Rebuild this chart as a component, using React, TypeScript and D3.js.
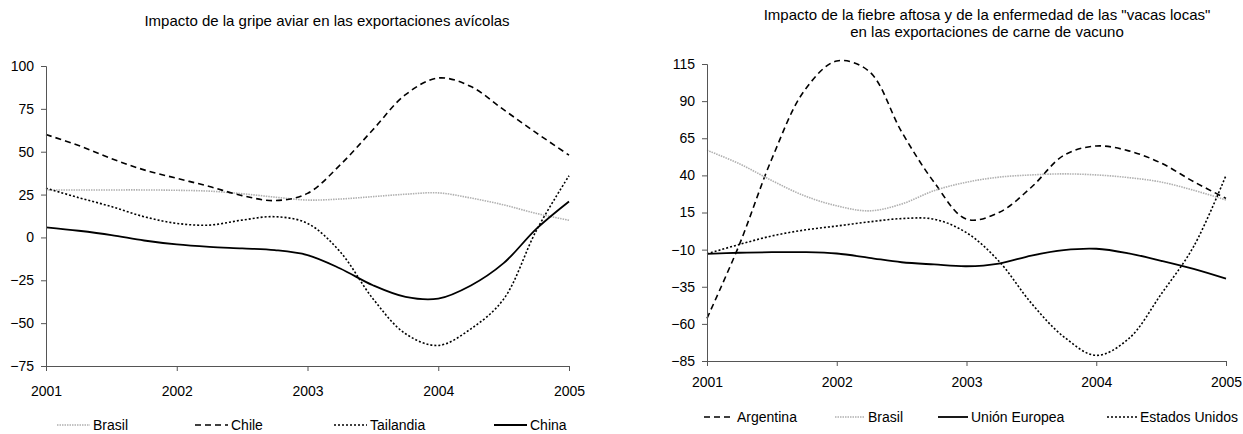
import { useEffect, useRef } from 'react';
import * as d3 from 'd3';

// quarterly readings taken off the two smoothed curves
const quarters = [2001, 2001.25, 2001.5, 2001.75, 2002, 2002.25, 2002.5, 2002.75, 2003, 2003.25, 2003.5, 2003.75, 2004, 2004.25, 2004.5, 2004.75, 2005];
const yearTicks = [2001, 2002, 2003, 2004, 2005];

const poultryTicks = [100, 75, 50, 25, 0, -25, -50, -75];
const brasilAves = [27.7, 27.7, 27.7, 27.7, 27.5, 27, 25.5, 23.5, 21.8, 22.4, 23.8, 25.2, 26, 23, 19, 14, 10];
const chileAves = [60, 53.6, 46, 39.4, 34.5, 29.7, 24.4, 21.5, 25.7, 42.3, 62.8, 83.3, 93, 88, 74.5, 61, 48];
const tailandiaAves = [28.7, 23.2, 18, 12.1, 8.2, 7.2, 10.1, 12.1, 8.2, -8.4, -35.7, -56.2, -63, -53.3, -36, 4, 36];
const chinaAves = [5.9, 3.9, 1.4, -1.8, -4.1, -5.5, -6.4, -7.4, -10.3, -18.1, -27.9, -34.7, -35.7, -28, -15, 5, 21];

const beefTicks = [115, 90, 65, 40, 15, -10, -35, -60, -85];
const argentinaVacuno = [-56.3, -6.5, 51.2, 97, 117, 110, 69.3, 35.4, 10.5, 15, 32, 53.5, 59.8, 56.5, 48.3, 35.8, 24.5];
const brasilVacuno = [56.9, 47.8, 36.5, 26.3, 19.5, 16.1, 20.7, 29.7, 35.4, 38.8, 40.3, 41, 40.3, 38.5, 35.5, 30, 23.4];
const ueVacuno = [-12.8, -12.1, -11.7, -11.7, -12.6, -15.5, -18.5, -20, -21.2, -19.4, -14, -10.3, -9.4, -12.5, -17.5, -23, -29.6];
const eeuuVacuno = [-12.8, -6.5, -0.8, 3.2, 5.9, 8.7, 10.9, 10.5, 1.4, -17.8, -46.1, -68.7, -81.2, -70, -40, -8, 40];

type LineStyle = { stroke: string; width: number; dash: string | null };

const styles: Record<string, LineStyle> = {
  dashed: { stroke: '#000', width: 1.6, dash: '6,4' },
  gray: { stroke: '#b0b0b0', width: 1.6, dash: '1.5,1' },
  dotted: { stroke: '#000', width: 1.6, dash: '2,2' },
  solid: { stroke: '#000', width: 1.8, dash: null },
};

type Series = { name: string; values: number[]; style: string; legendX: number; lineLen: number };

type Panel = {
  left: number;
  right: number;
  top: number;
  bottom: number;
  ticks: number[];
  title: string[];
  titleX: number;
  titleY: number;
  legendY: number;
  labelY: number;
  series: Series[];
};

const FONT = 'Arial, "Liberation Sans", sans-serif';

function drawPanel(svg: d3.Selection<SVGSVGElement, unknown, null, undefined>, p: Panel) {
  const x = d3.scaleLinear().domain([2001, 2005]).range([p.left, p.right]);
  const y = d3.scaleLinear()
    .domain([d3.min(p.ticks)!, d3.max(p.ticks)!])
    .range([p.bottom, p.top]);

  const g = svg.append('g');

  // title
  const t = g.append('text')
    .attr('x', p.titleX)
    .attr('y', p.titleY)
    .attr('text-anchor', 'middle')
    .attr('font-family', FONT)
    .attr('font-size', 15);
  p.title.forEach((line, i) => {
    t.append('tspan').attr('x', p.titleX).attr('dy', i === 0 ? 0 : 17).text(line);
  });

  // lines
  const line = d3.line<number>()
    .x((_, i) => x(quarters[i]))
    .y(d => y(d))
    .curve(d3.curveCatmullRom.alpha(0.5));

  p.series.forEach(s => {
    const st = styles[s.style];
    g.append('path')
      .datum(s.values)
      .attr('fill', 'none')
      .attr('stroke', st.stroke)
      .attr('stroke-width', st.width)
      .attr('stroke-dasharray', st.dash)
      .attr('d', line);
  });

  // y axis
  const yAxis = g.append('g')
    .attr('transform', `translate(${p.left},0)`)
    .call(d3.axisLeft(y).tickValues(p.ticks).tickSize(5).tickPadding(7).tickFormat(d3.format('d')));
  yAxis.selectAll('path, line').attr('stroke', '#555');
  yAxis.selectAll('text').attr('font-family', FONT).attr('font-size', 14).attr('fill', '#000');

  // x axis
  const xAxis = g.append('g')
    .attr('transform', `translate(0,${p.bottom})`)
    .call(d3.axisBottom(x).tickValues(yearTicks).tickSize(5).tickSizeOuter(5).tickFormat(d3.format('d')));
  xAxis.selectAll('path, line').attr('stroke', '#555');
  xAxis.selectAll('text')
    .attr('font-family', FONT)
    .attr('font-size', 14)
    .attr('fill', '#000')
    .attr('y', p.labelY - p.bottom)
    .attr('dy', 0);

  // legend
  p.series.forEach(s => {
    const st = styles[s.style];
    g.append('line')
      .attr('x1', s.legendX - s.lineLen - 3)
      .attr('x2', s.legendX - 3)
      .attr('y1', p.legendY - 5)
      .attr('y2', p.legendY - 5)
      .attr('stroke', st.stroke)
      .attr('stroke-width', st.width)
      .attr('stroke-dasharray', st.dash);
    g.append('text')
      .attr('x', s.legendX)
      .attr('y', p.legendY)
      .attr('font-family', FONT)
      .attr('font-size', 14)
      .text(s.name);
  });
}

export default function App() {
  const svgRef = useRef<SVGSVGElement>(null);

  useEffect(() => {
    if (!svgRef.current) return;
    const svg = d3.select(svgRef.current);
    svg.selectAll('*').remove();

    drawPanel(svg, {
      left: 46,
      right: 569,
      top: 66,
      bottom: 366,
      ticks: poultryTicks,
      title: ['Impacto de la gripe aviar en las exportaciones avícolas'],
      titleX: 327,
      titleY: 26,
      legendY: 430,
      labelY: 396,
      series: [
        { name: 'Brasil', values: brasilAves, style: 'gray', legendX: 93, lineLen: 33 },
        { name: 'Chile', values: chileAves, style: 'dashed', legendX: 231, lineLen: 33 },
        { name: 'Tailandia', values: tailandiaAves, style: 'dotted', legendX: 370, lineLen: 33 },
        { name: 'China', values: chinaAves, style: 'solid', legendX: 530, lineLen: 33 },
      ],
    });

    drawPanel(svg, {
      left: 707,
      right: 1226,
      top: 64,
      bottom: 361,
      ticks: beefTicks,
      title: [
        'Impacto de la fiebre aftosa y de la enfermedad de las "vacas locas"',
        'en las exportaciones de carne de vacuno',
      ],
      titleX: 987,
      titleY: 20,
      legendY: 422,
      labelY: 387,
      series: [
        { name: 'Argentina', values: argentinaVacuno, style: 'dashed', legendX: 737, lineLen: 30 },
        { name: 'Brasil', values: brasilVacuno, style: 'gray', legendX: 868, lineLen: 30 },
        { name: 'Unión Europea', values: ueVacuno, style: 'solid', legendX: 971, lineLen: 30 },
        { name: 'Estados Unidos', values: eeuuVacuno, style: 'dotted', legendX: 1140, lineLen: 30 },
      ],
    });
  }, []);

  return (
    <svg
      ref={svgRef}
      width={1243}
      height={434}
      style={{ position: 'absolute', left: 0, top: 0, background: '#fff' }}
    />
  );
}
